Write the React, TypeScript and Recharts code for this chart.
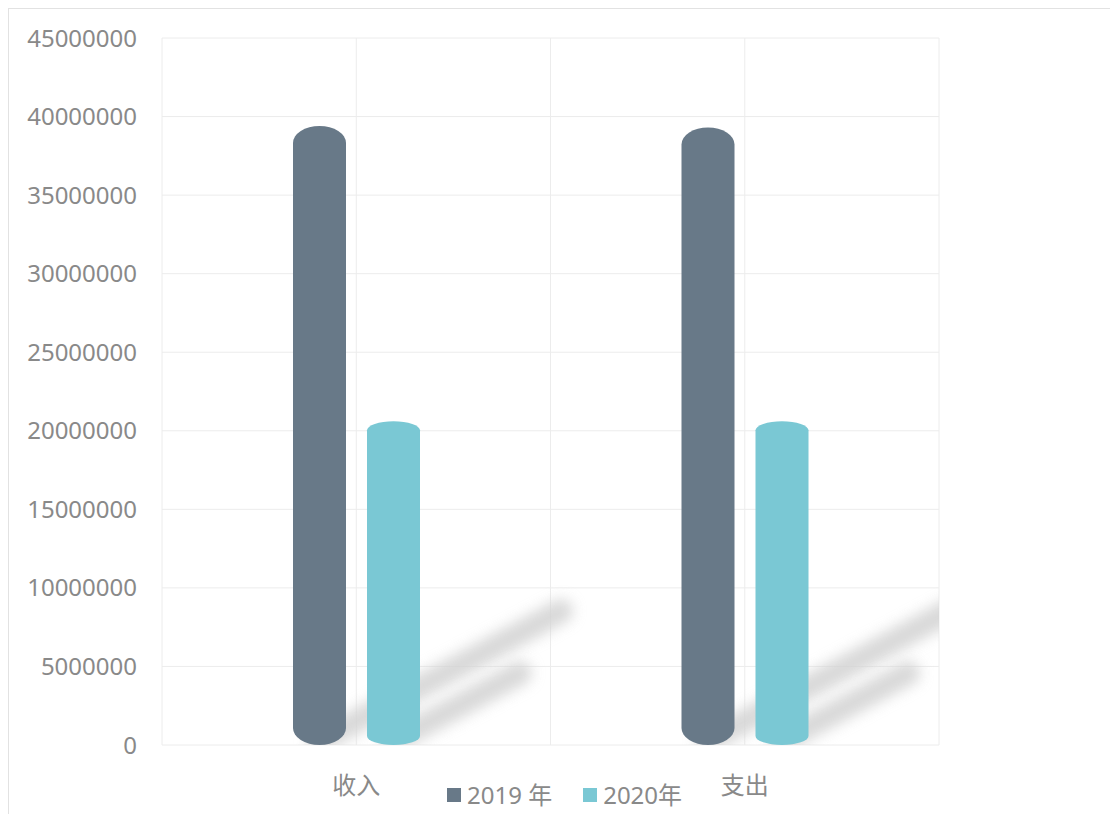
import { Bar, BarChart, CartesianGrid, XAxis, YAxis } from "recharts";

const categories = ["收入", "支出"];
const values2019 = [39400000, 39300000];
const values2020 = [20600000, 20600000];
const yTicks = [0, 5000000, 10000000, 15000000, 20000000, 25000000, 30000000, 35000000, 40000000, 45000000];

const series = [
  { key: "y2019", name: "2019 年", color: "#687988", capRy: 17 },
  { key: "y2020", name: "2020年", color: "#7ac8d4", capRy: 9 },
];

const data = categories.map((name, i) => ({ name, y2019: values2019[i], y2020: values2020[i] }));

const FONT = '"Noto Sans", "Noto Sans CJK SC", sans-serif';
const TEXT = "#898989";
const CHART_W = 1107;
const CHART_H = 808;
const MARGIN = { top: 29, right: 177, bottom: 32, left: 0 };

/** Cylinder-ish bar with a soft diagonal shadow cast to the upper right. */
function Cylinder(props: any) {
  const { x, y, width: w, height: h, fill, capRy, index, seriesKey, clipRight } = props;
  if (!h || h <= 0) return null;
  const ry = Math.min(capRy, h / 2);
  const baseX = x + w / 2;
  const baseY = y + h - 4;
  const endX = baseX + h * 0.39;
  const endY = baseY - h * 0.21;
  const fid = `blur-${seriesKey}-${index}`;
  const cid = `clip-${seriesKey}-${index}`;
  const d = [
    `M${x},${y + ry}`,
    `A${w / 2},${ry} 0 0 1 ${x + w},${y + ry}`,
    `L${x + w},${y + h - ry}`,
    `A${w / 2},${ry} 0 0 1 ${x},${y + h - ry}`,
    "Z",
  ].join(" ");
  return (
    <g>
      <defs>
        <filter id={fid} x="-50%" y="-50%" width="200%" height="200%">
          <feGaussianBlur stdDeviation="7" />
        </filter>
        <clipPath id={cid}>
          <rect x={x - 50} y={y - 50} width={clipRight - x + 50} height={h + 50} />
        </clipPath>
      </defs>
      <g clipPath={`url(#${cid})`}>
        <line
          x1={baseX}
          y1={baseY}
          x2={endX}
          y2={endY}
          stroke="#d2d2d2"
          strokeWidth={24}
          strokeLinecap="round"
          opacity={0.85}
          filter={`url(#${fid})`}
        />
      </g>
      <path d={d} fill={fill} />
    </g>
  );
}

export default function App() {
  return (
    <div
      style={{
        position: "relative",
        width: 1109,
        height: 820,
        border: "1px solid #e2e2e2",
        boxSizing: "border-box",
        background: "#fff",
        fontFamily: FONT,
      }}
    >
      <BarChart width={CHART_W} height={CHART_H} data={data} margin={MARGIN} barSize={53} barGap={21}>
        <CartesianGrid
          stroke="#ececec"
          verticalCoordinatesGenerator={({ offset }: any) =>
            Array.from({ length: categories.length * 2 + 1 }, (_, i) => offset.left + (offset.width * i) / (categories.length * 2))
          }
        />
        <XAxis
          dataKey="name"
          axisLine={false}
          tickLine={false}
          tickSize={0}
          tickMargin={32}
          height={40}
          tick={{ fill: TEXT, fontSize: 24, fontFamily: FONT }}
        />
        <YAxis
          domain={[0, 45000000]}
          ticks={yTicks}
          width={153}
          axisLine={false}
          tickLine={false}
          tickSize={0}
          tickMargin={25}
          interval={0}
          tick={{ fill: TEXT, fontSize: 24, fontFamily: FONT }}
        />
        {series.map((s) => (
          <Bar
            key={s.key}
            dataKey={s.key}
            name={s.name}
            fill={s.color}
            isAnimationActive={false}
            shape={(p: any) => (
              <Cylinder {...p} capRy={s.capRy} seriesKey={s.key} clipRight={CHART_W - MARGIN.right} />
            )}
          />
        ))}
      </BarChart>
      <div
        style={{
          position: "absolute",
          left: 438,
          top: 772,
          height: 28,
          display: "flex",
          alignItems: "center",
          gap: 31,
          color: TEXT,
          fontSize: 24,
          lineHeight: "28px",
        }}
      >
        {series.map((s) => (
          <div key={s.key} style={{ display: "flex", alignItems: "center", gap: 6 }}>
            <span style={{ display: "inline-block", width: 14, height: 14, background: s.color }} />
            <span>{s.name}</span>
          </div>
        ))}
      </div>
    </div>
  );
}
